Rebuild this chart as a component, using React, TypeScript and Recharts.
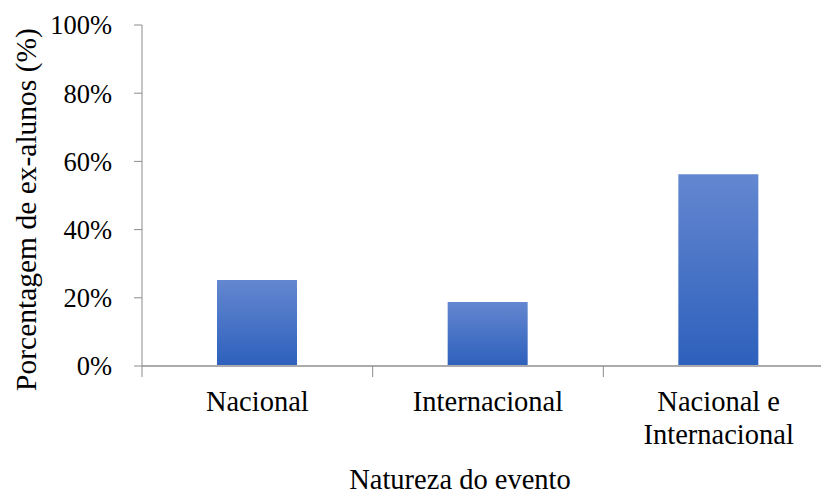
import React from "react";
import {
  BarChart,
  Bar,
  XAxis,
  YAxis,
  Label,
} from "recharts";

const categories = ["Nacional", "Internacional", "Nacional e\nInternacional"];
const percentages = [25.2, 18.8, 56.2];
const yTicks = [0, 20, 40, 60, 80, 100];

const font = "Liberation Serif";
const W = 834;
const H = 494;
const TOP = 25;
const XAXIS_H = 128;
const YAXIS_W = 142;

const data = categories.map((name, i) => ({ name, value: percentages[i] }));

// category label plus the tick marks on the category boundaries
function CategoryTick(props: any) {
  const { x, y, payload, index, visibleTicksCount, width } = props;
  const band = width / visibleTicksCount;
  const lines = String(payload.value).split("\n");
  return (
    <g>
      <line x1={x - band / 2} x2={x - band / 2} y1={y} y2={y + 11} stroke="#8c8c8c" />
      {index === visibleTicksCount - 1 && (
        <line x1={x + band / 2} x2={x + band / 2} y1={y} y2={y + 11} stroke="#8c8c8c" />
      )}
      <text x={x} y={y} textAnchor="middle" fontFamily={font} fontSize={28.5} fill="#000">
        {lines.map((l, i) => (
          <tspan key={i} x={x} dy={i === 0 ? 45 : 33}>
            {l}
          </tspan>
        ))}
      </text>
    </g>
  );
}

export default function App() {
  const plotH = H - TOP - XAXIS_H;
  return (
    <div
      style={{
        position: "absolute",
        left: 0,
        top: 0,
        width: 821,
        height: 494,
        overflow: "hidden",
        background: "#fff",
      }}
    >
      <BarChart
        width={W}
        height={H}
        data={data}
        margin={{ top: TOP, right: 0, bottom: 0, left: 0 }}
        barSize={80}
      >
        <defs>
          <linearGradient id="barFill" x1="0" y1="0" x2="0" y2="1">
            <stop offset="0%" stopColor="#6487d0" />
            <stop offset="100%" stopColor="#2d60bc" />
          </linearGradient>
        </defs>
        <XAxis
          dataKey="name"
          height={XAXIS_H}
          axisLine={{ stroke: "#ababab", strokeWidth: 2 }}
          tickLine={false}
          tickSize={0}
          tickMargin={0}
          interval={0}
          tick={<CategoryTick />}
        >
          <Label
            content={() => (
              <text
                x={YAXIS_W + (W - YAXIS_W) / 2 - 28}
                y={H - 5}
                textAnchor="middle"
                fontFamily={font}
                fontSize={28.5}
                fill="#000"
              >
                Natureza do evento
              </text>
            )}
          />
        </XAxis>
        <YAxis
          width={YAXIS_W}
          domain={[0, 100]}
          ticks={yTicks}
          interval={0}
          tickFormatter={(v) => `${v}%`}
          axisLine={{ stroke: "#8c8c8c" }}
          tickLine={{ stroke: "#8c8c8c" }}
          tickSize={8}
          tickMargin={22}
          tick={{ fontFamily: font, fontSize: 26.5, fill: "#000" }}
        >
          <Label
            content={() => {
              const cx = 36;
              const cy = TOP + plotH / 2 + 14;
              return (
                <text
                  x={cx}
                  y={cy}
                  transform={`rotate(-90, ${cx}, ${cy})`}
                  textAnchor="middle"
                  fontFamily={font}
                  fontSize={29.5}
                  fill="#000"
                >
                  Porcentagem de ex-alunos (%)
                </text>
              );
            }}
          />
        </YAxis>
        <Bar dataKey="value" fill="url(#barFill)" isAnimationActive={false} />
      </BarChart>
    </div>
  );
}
